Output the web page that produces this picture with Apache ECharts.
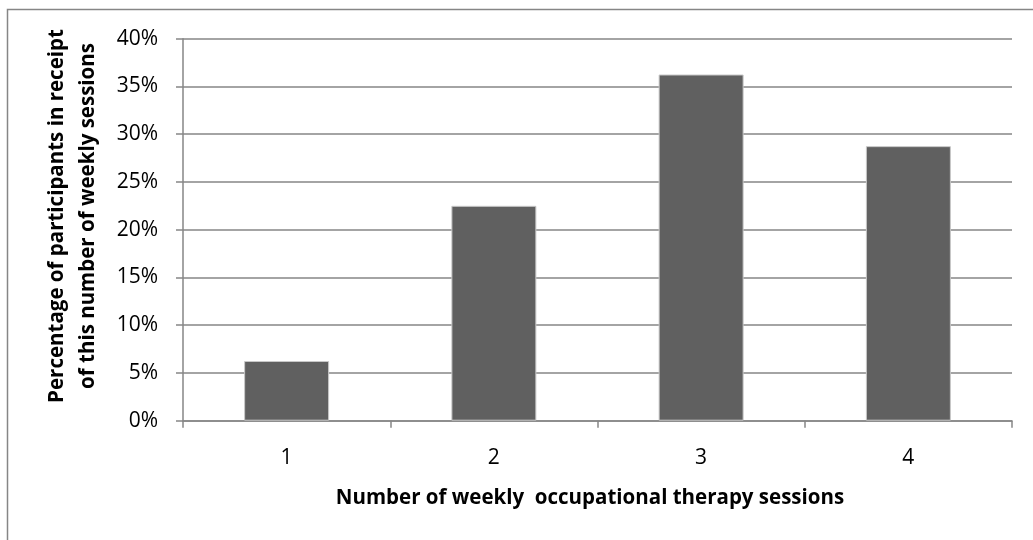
<!DOCTYPE html>
<html>
<head>
<meta charset="utf-8">
<script src="https://cdn.jsdelivr.net/npm/echarts@6/dist/echarts.min.js"></script>
<style>
  html, body { margin: 0; padding: 0; background: #fff; }
  #chart { width: 1033px; height: 540px; }
</style>
</head>
<body>
<div id="chart"></div>
<script>
// Weekly occupational therapy sessions and share of participants (%)
const sessions = ['1', '2', '3', '4'];
const sharePct = [6.25, 22.5, 36.25, 28.75];
const yTicks = [0, 5, 10, 15, 20, 25, 30, 35, 40];

const xTitle = 'Number of weekly  occupational therapy sessions';
const yTitleLines = ['Percentage of participants in receipt', 'of this number of weekly sessions'];

const FONT = '"Open Sans", Lato, sans-serif';
const GRID_GRAY = '#868686';

const chart = echarts.init(document.getElementById('chart'));
chart.setOption({
  animation: false,
  backgroundColor: '#ffffff',
  graphic: [
    {
      // outer chart frame
      type: 'rect',
      shape: { x: 7.5, y: 9.5, width: 1100, height: 600 },
      style: { fill: 'none', stroke: GRID_GRAY, lineWidth: 1.5 },
      silent: true
    },
    {
      // vertical axis title, two lines
      type: 'text',
      x: 73,
      y: 216,
      rotation: Math.PI / 2,
      style: {
        text: yTitleLines.join('\n'),
        font: 'bold 20.5px ' + FONT,
        fill: '#000',
        align: 'center',
        verticalAlign: 'middle',
        lineHeight: 31
      },
      silent: true
    },
    {
      // horizontal axis title
      type: 'text',
      x: 590,
      y: 498,
      style: {
        text: xTitle,
        font: 'bold 20.5px ' + FONT,
        fill: '#000',
        align: 'center',
        verticalAlign: 'middle'
      },
      silent: true
    }
  ],
  grid: { left: 183, right: 21, top: 38.7, bottom: 119.3 },
  xAxis: {
    type: 'category',
    data: sessions,
    boundaryGap: true,
    axisLine: { lineStyle: { color: GRID_GRAY, width: 1.5 } },
    axisTick: { show: true, length: 7, lineStyle: { color: GRID_GRAY, width: 1.5 } },
    axisLabel: { fontFamily: FONT, fontSize: 21, color: '#000', margin: 27 }
  },
  yAxis: {
    type: 'value',
    min: yTicks[0],
    max: yTicks[yTicks.length - 1],
    interval: yTicks[1] - yTicks[0],
    axisLine: { show: true, lineStyle: { color: GRID_GRAY, width: 1.5 } },
    axisTick: { show: true, length: 7, lineStyle: { color: GRID_GRAY, width: 1.5 } },
    axisLabel: { fontFamily: FONT, fontSize: 21, color: '#000', margin: 25, formatter: '{value}%' },
    splitLine: { show: true, lineStyle: { color: GRID_GRAY, width: 1.5 } }
  },
  series: [
    {
      type: 'bar',
      data: sharePct,
      barCategoryGap: '59%',
      itemStyle: { color: '#606060', borderColor: '#c8c8c8', borderWidth: 1 }
    }
  ]
});
</script>
</body>
</html>
